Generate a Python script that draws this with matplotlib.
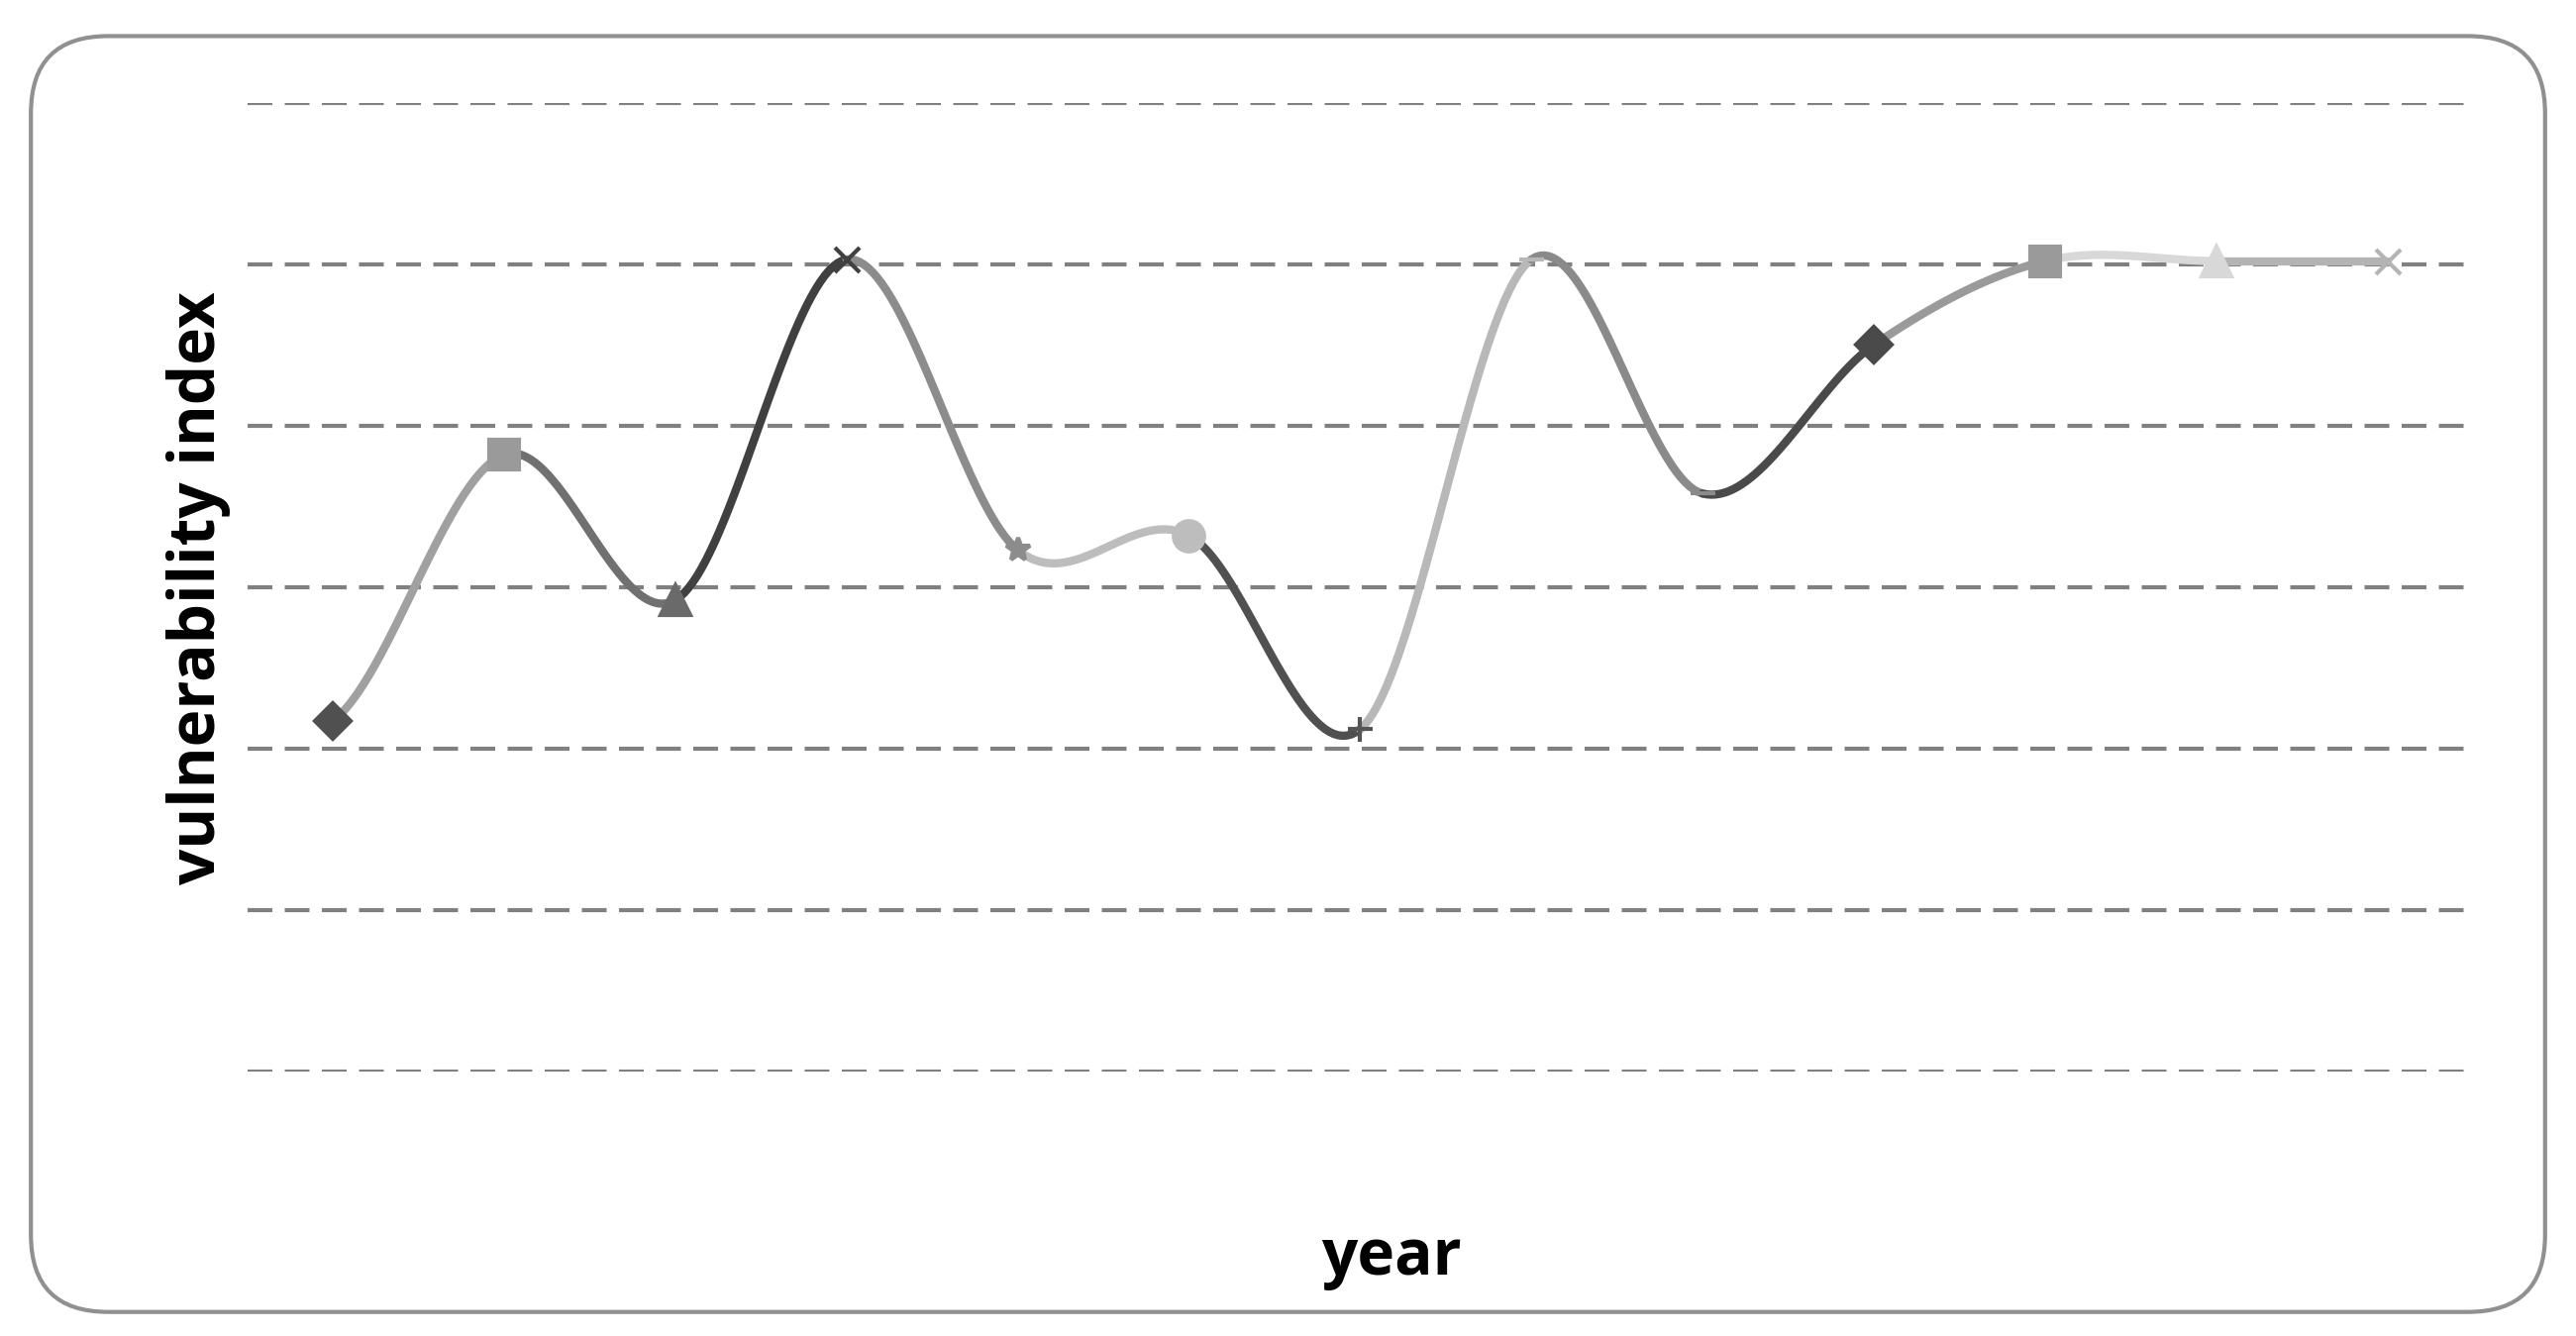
import numpy as np
import matplotlib.pyplot as plt
from matplotlib.patches import FancyBboxPatch

years = list(range(1, 14))
index_vals = [2.17, 3.82, 2.92, 5.03, 3.23, 3.32, 2.12, 5.03, 3.58, 4.50, 5.02, 5.02, 5.02]
seg_colors = ["#a0a0a0", "#707070", "#404040", "#8c8c8c", "#bdbdbd", "#505050",
              "#b8b8b8", "#8a8a8a", "#4a4a4a", "#9a9a9a", "#d8d8d8", "#b4b4b4"]
markers = ["D", "s", "^", "x", "*", "o", "+", "_", "_", "D", "s", "^", "x"]
mk_colors = ["#505050", "#9a9a9a", "#6a6a6a", "#404040", "#8c8c8c", "#bdbdbd", "#555555",
             "#b8b8b8", "#8a8a8a", "#4a4a4a", "#9a9a9a", "#d8d8d8", "#b4b4b4"]

fig = plt.figure(figsize=(26.01, 13.49), dpi=100)
fig.patches.append(FancyBboxPatch((0.012, 0.018), 0.976, 0.955,
                                  boxstyle="round,pad=0,rounding_size=0.03",
                                  transform=fig.transFigure, facecolor="white",
                                  edgecolor="#909090", linewidth=3,
                                  mutation_aspect=26.01/13.49, zorder=-10))
ax = fig.add_axes([0.096, 0.198, 0.864, 0.725])
ax.patch.set_alpha(0)
ax.set_xlim(0.5, 13.5)
ax.set_ylim(0, 6)
for v in range(7):
    ax.axhline(v, color="#808080", lw=3, ls=(0, (6, 3)), zorder=1)
for s in ax.spines.values():
    s.set_visible(False)
ax.set_xticks([])
ax.set_yticks([])

x = np.array(years, float)
y = np.array(index_vals)
xp = np.concatenate([[2 * x[0] - x[1]], x, [2 * x[-1] - x[-2]]])
yp = np.concatenate([[y[0]], y, [y[-1]]])
t = np.linspace(0, 1, 40)
for i in range(len(x) - 1):
    p0, p1, p2, p3 = [np.array([xp[i + k], yp[i + k]]) for k in range(4)]
    c1 = p1 + (p2 - p0) / 6
    c2 = p2 - (p3 - p1) / 6
    pts = ((1 - t) ** 3)[:, None] * p1 + (3 * (1 - t) ** 2 * t)[:, None] * c1 \
        + (3 * (1 - t) * t ** 2)[:, None] * c2 + (t ** 3)[:, None] * p2
    ax.plot(pts[:, 0], pts[:, 1], color=seg_colors[i], lw=6, solid_capstyle="round", zorder=2)

for xi, yi, m, c in zip(years, index_vals, markers, mk_colors):
    ms = 22 if m in "so^" else 18
    ax.plot(xi, yi, marker=m, color=c, ms=ms, mew=3, zorder=3, clip_on=False)

fig.text(0.077, 0.56, "vulnerability index", rotation=90, ha="center", va="center",
         fontsize=46, fontweight="bold", family=["Open Sans", "DejaVu Sans"])
fig.text(0.54, 0.058, "year", ha="center", va="center",
         fontsize=46, fontweight="bold", family=["Open Sans", "DejaVu Sans"])
fig.savefig("out.png", dpi=100)
